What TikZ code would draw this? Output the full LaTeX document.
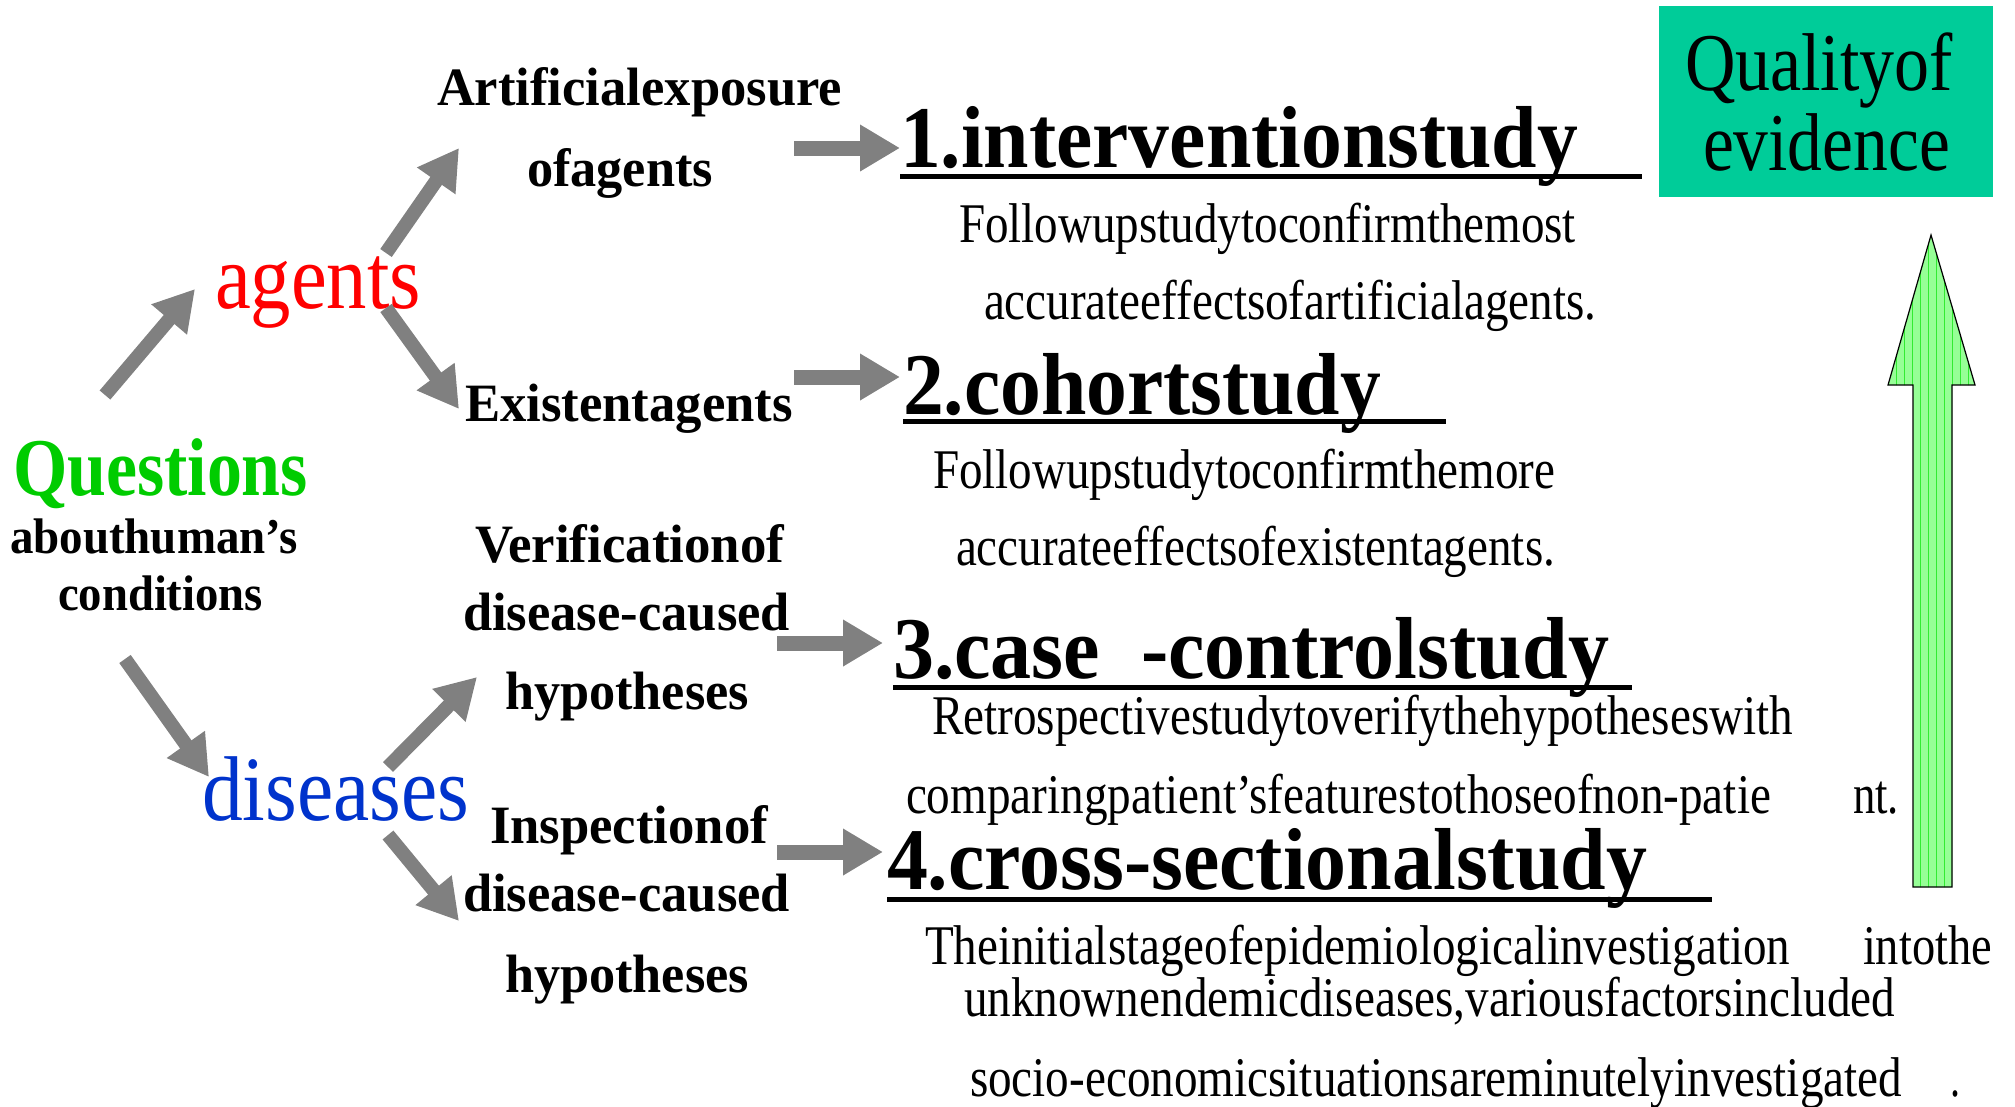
\documentclass[tikz,border=0pt]{standalone}
\usepackage{fontspec}
\setmainfont{Liberation Serif}
\usetikzlibrary{arrows.meta}
\newcommand{\tx}[3]{\resizebox{#1pt}{\height}{\fontsize{#2pt}{#2pt}\selectfont #3}}
\definecolor{arrgray}{RGB}{128,128,128}
\definecolor{qgreen}{RGB}{0,204,0}
\definecolor{dblue}{RGB}{0,51,204}
\definecolor{teal}{RGB}{0,204,153}
\definecolor{lgreen}{RGB}{150,255,150}
\definecolor{ggrid}{RGB}{50,235,50}
\tikzset{
  lbl/.style={inner sep=0pt, outer sep=0pt, anchor=base west},
  garrow/.style={draw=arrgray, line width=14pt, -{Triangle[width=44pt,length=40pt]}},
  harrow/.style={draw=arrgray, line width=15pt, -{Triangle[width=44pt,length=40pt]}},
  uline/.style={line width=5pt, black}
}
\begin{document}
\begin{tikzpicture}[x=1pt,y=-1pt]
\useasboundingbox (0,0) rectangle (2015,1106);
% left labels
\node[lbl] (art) at (437,105) {\tx{405}{54}{\bfseries Artificialexposure}};
\node[lbl] (ofag) at (527,186) {\tx{186}{54}{\bfseries ofagents}};
\node[lbl, text=red] (agents) at (215,308) {\tx{206}{92}{agents}};
\node[lbl] (exist) at (465,421) {\tx{328}{54}{\bfseries Existentagents}};
\node[lbl, text=qgreen] (quest) at (13,495) {\tx{295}{82}{\bfseries Questions}};
\node[lbl] (about) at (10,553) {\tx{288}{50}{\bfseries abouthuman’s}};
\node[lbl] (cond) at (58,610) {\tx{205}{50}{\bfseries conditions}};
\node[lbl] (verif) at (475,562) {\tx{309}{54}{\bfseries Verificationof}};
\node[lbl] (dc1) at (463,630) {\tx{327}{54}{\bfseries disease-caused}};
\node[lbl] (hyp1) at (505,709) {\tx{244}{54}{\bfseries hypotheses}};
\node[lbl, text=dblue] (dis) at (202,820) {\tx{267}{92}{diseases}};
\node[lbl] (insp) at (490,843) {\tx{278}{54}{\bfseries Inspectionof}};
\node[lbl] (dc2) at (463,911) {\tx{327}{54}{\bfseries disease-caused}};
\node[lbl] (hyp2) at (505,992) {\tx{244}{54}{\bfseries hypotheses}};
% headings
\node[lbl] (h1) at (900,167) {\tx{678}{88}{\bfseries 1.interventionstudy}};
\node[lbl] (h2) at (903,414) {\tx{478}{88}{\bfseries 2.cohortstudy}};
\node[lbl] (h3) at (893,678) {\tx{716}{88}{\bfseries 3.case\ \ -controlstudy}};
\node[lbl] (h4) at (887,889) {\tx{760}{88}{\bfseries 4.cross-sectionalstudy}};
\draw[uline] (900,176) -- (1642,176);
\draw[uline] (903,421) -- (1446,421);
\draw[uline] (893,687) -- (1632,687);
\draw[uline] (887,899) -- (1712,899);
% body text
\node[lbl] (b1a) at (959,242) {\tx{617}{56}{Followupstudytoconfirmthemost}};
\node[lbl] (b1b) at (984,319) {\tx{612}{56}{accurateeffectsofartificialagents.}};
\node[lbl] (b2a) at (933,488) {\tx{622}{56}{Followupstudytoconfirmthemore}};
\node[lbl] (b2b) at (956,565) {\tx{599}{56}{accurateeffectsofexistentagents.}};
\node[lbl] (b3a) at (932,734) {\tx{861}{56}{Retrospectivestudytoverifythehypotheseswith}};
\node[lbl] (b3b) at (906,813) {\tx{865}{56}{comparingpatient’sfeaturestothoseofnon-patie}};
\node[lbl] (b3c) at (1853,813) {\tx{46}{56}{nt.}};
\node[lbl] (b4a) at (925,964) {\tx{865}{56}{Theinitialstageofepidemiologicalinvestigation}};
\node[lbl] (b4b) at (1863,964) {\tx{129}{56}{intothe}};
\node[lbl] (b4c) at (964,1016) {\tx{931}{56}{unknownendemicdiseases,variousfactorsincluded}};
\node[lbl] (b4d) at (970,1096) {\tx{932}{56}{socio-economicsituationsareminutelyinvestigated}};
\node[lbl] (b4e) at (1950,1096) {\tx{10}{56}{.}};
% quality box
\fill[teal] (1659,6) rectangle (1993,197);
\node[lbl] (qual) at (1685,90) {\tx{268}{82}{Qualityof}};
\node[lbl] (evid) at (1703,170) {\tx{247}{82}{evidence}};
% green arrow
\begin{scope}
\path[clip] (1931,235) -- (1975,385) -- (1952,385) -- (1952,887) -- (1913,887) -- (1913,385) -- (1888,385) -- cycle;
\fill[lgreen] (1880,230) rectangle (1980,890);
\draw[ggrid, line width=0.7pt, step=8] (1880,230) grid (1980,890);
\end{scope}
\draw[black, line width=1.2pt, line join=miter] (1931,235) -- (1975,385) -- (1952,385) -- (1952,887) -- (1913,887) -- (1913,385) -- (1888,385) -- cycle;
% gray arrows
\coordinate (qa0) at (105,395); \coordinate (qa1) at (195,289);
\coordinate (aa0) at (386,253); \coordinate (aa1) at (459,148);
\coordinate (ae0) at (386,308); \coordinate (ae1) at (459,409);
\coordinate (qd0) at (125,659); \coordinate (qd1) at (209,777);
\coordinate (dv0) at (388,767); \coordinate (dv1) at (477,677);
\coordinate (di0) at (388,835); \coordinate (di1) at (459,921);
\coordinate (r10) at (794,148); \coordinate (r11) at (900,148);
\coordinate (r20) at (794,377); \coordinate (r21) at (900,377);
\coordinate (r30) at (777,643); \coordinate (r31) at (883,643);
\coordinate (r40) at (777,852); \coordinate (r41) at (883,852);
\draw[garrow] (qa0) -- (qa1);
\draw[garrow] (aa0) -- (aa1);
\draw[garrow] (ae0) -- (ae1);
\draw[garrow] (qd0) -- (qd1);
\draw[garrow] (dv0) -- (dv1);
\draw[garrow] (di0) -- (di1);
\draw[harrow] (r10) -- (r11);
\draw[harrow] (r20) -- (r21);
\draw[harrow] (r30) -- (r31);
\draw[harrow] (r40) -- (r41);
\end{tikzpicture}
\end{document}
